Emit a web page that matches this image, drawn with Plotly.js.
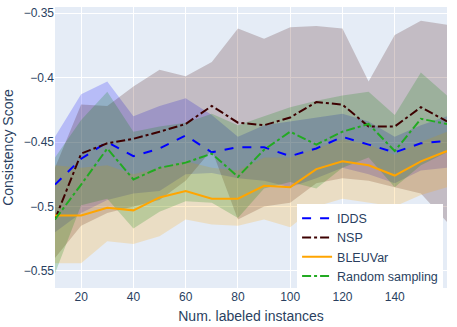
<!DOCTYPE html>
<html>
<head>
<meta charset="utf-8">
<script src="https://cdn.plot.ly/plotly-3.0.1.min.js"></script>
<style>
  html, body { margin: 0; padding: 0; background: #fff; }
  #plot { width: 457px; height: 327px; }
</style>
</head>
<body>
<div id="plot"></div>
<script>
// labeled-instance counts on the x axis
const labeled = [10, 20, 30, 40, 50, 60, 70, 80, 90, 100, 110, 120, 130, 140, 150, 160];

// mean consistency per method
const iddsMean = [-0.483, -0.463, -0.450, -0.461, -0.455, -0.445, -0.458, -0.454, -0.454, -0.461, -0.455, -0.446, -0.452, -0.458, -0.451, -0.449];
const nspMean = [-0.510, -0.459, -0.451, -0.4475, -0.442, -0.436, -0.422, -0.435, -0.437, -0.431, -0.419, -0.421, -0.438, -0.438, -0.423, -0.434];
const bleuMean = [-0.507, -0.507, -0.501, -0.503, -0.493, -0.488, -0.494, -0.494, -0.484, -0.485, -0.471, -0.465, -0.468, -0.476, -0.465, -0.457];
const randMean = [-0.510, -0.483, -0.455, -0.479, -0.470, -0.466, -0.459, -0.477, -0.456, -0.442, -0.452, -0.442, -0.436, -0.457, -0.432, -0.436];

// spread bands (upper / lower)
const iddsUpper = [-0.446, -0.413, -0.403, -0.430, -0.422, -0.416, -0.429, -0.446, -0.437, -0.434, -0.431, -0.428, -0.434, -0.446, -0.437, -0.430];
const iddsLower = [-0.520, -0.505, -0.495, -0.490, -0.488, -0.475, -0.474, -0.478, -0.480, -0.485, -0.478, -0.470, -0.475, -0.482, -0.472, -0.470];
const nspUpper = [-0.470, -0.421, -0.422, -0.407, -0.394, -0.399, -0.388, -0.362, -0.370, -0.361, -0.360, -0.362, -0.403, -0.367, -0.356, -0.359];
const nspLower = [-0.540, -0.515, -0.505, -0.500, -0.495, -0.480, -0.456, -0.510, -0.500, -0.497, -0.482, -0.478, -0.480, -0.485, -0.490, -0.512];
const bleuUpper = [-0.468, -0.470, -0.468, -0.475, -0.470, -0.465, -0.470, -0.472, -0.462, -0.462, -0.455, -0.448, -0.452, -0.460, -0.450, -0.442];
const bleuLower = [-0.544, -0.544, -0.527, -0.529, -0.523, -0.510, -0.514, -0.515, -0.510, -0.516, -0.500, -0.494, -0.497, -0.500, -0.491, -0.485];
const randUpper = [-0.462, -0.433, -0.411, -0.442, -0.438, -0.435, -0.428, -0.437, -0.430, -0.423, -0.418, -0.414, -0.411, -0.429, -0.396, -0.414];
const randLower = [-0.552, -0.499, -0.494, -0.517, -0.504, -0.496, -0.497, -0.509, -0.486, -0.481, -0.486, -0.470, -0.462, -0.485, -0.468, -0.458];

const methods = [
  {name: 'IDDS', mean: iddsMean, up: iddsUpper, lo: iddsLower, color: '#0000ff', fill: 'rgba(0,0,255,0.2)', dash: 'dash'},
  {name: 'NSP', mean: nspMean, up: nspUpper, lo: nspLower, color: '#3d0000', fill: 'rgba(61,0,0,0.2)', dash: 'dashdot'},
  {name: 'BLEUVar', mean: bleuMean, up: bleuUpper, lo: bleuLower, color: '#ffa500', fill: 'rgba(255,165,0,0.2)', dash: 'solid'},
  {name: 'Random sampling', mean: randMean, up: randUpper, lo: randLower, color: '#22aa22', fill: 'rgba(0,128,0,0.2)', dash: 'dashdot'}
];

const traces = [];
methods.forEach(m => {
  traces.push({
    x: labeled.concat(labeled.slice().reverse()),
    y: m.up.concat(m.lo.slice().reverse()),
    type: 'scatter', mode: 'lines', fill: 'toself',
    fillcolor: m.fill, line: {width: 0}, showlegend: false, hoverinfo: 'skip'
  });
});
methods.forEach(m => {
  traces.push({
    x: labeled, y: m.mean, type: 'scatter', mode: 'lines', name: m.name,
    line: {color: m.color, width: 2, dash: m.dash}
  });
});

const layout = {
  width: 457, height: 327,
  margin: {l: 55, r: 10, t: 7, b: 39},
  paper_bgcolor: '#ffffff',
  plot_bgcolor: '#E5ECF6',
  font: {family: 'Liberation Sans, Arial, sans-serif', color: '#2a3f5f', size: 12},
  xaxis: {
    title: {text: 'Num. labeled instances', font: {size: 14}, standoff: 8},
    range: [10, 160], tickvals: [20, 40, 60, 80, 100, 120, 140],
    gridcolor: '#ffffff', zeroline: false, ticks: ''
  },
  yaxis: {
    title: {text: 'Consistency Score', font: {size: 14}, standoff: 6},
    range: [-0.5632, -0.3453], dtick: 0.05, tick0: -0.55,
    gridcolor: '#ffffff', zeroline: false, ticks: ''
  },
  legend: {
    x: 0.99, y: 0.30, xanchor: 'right', yanchor: 'top',
    bgcolor: '#ffffff', font: {size: 12.5}
  }
};

Plotly.newPlot('plot', traces, layout, {displayModeBar: false, staticPlot: true});
</script>
</body>
</html>
